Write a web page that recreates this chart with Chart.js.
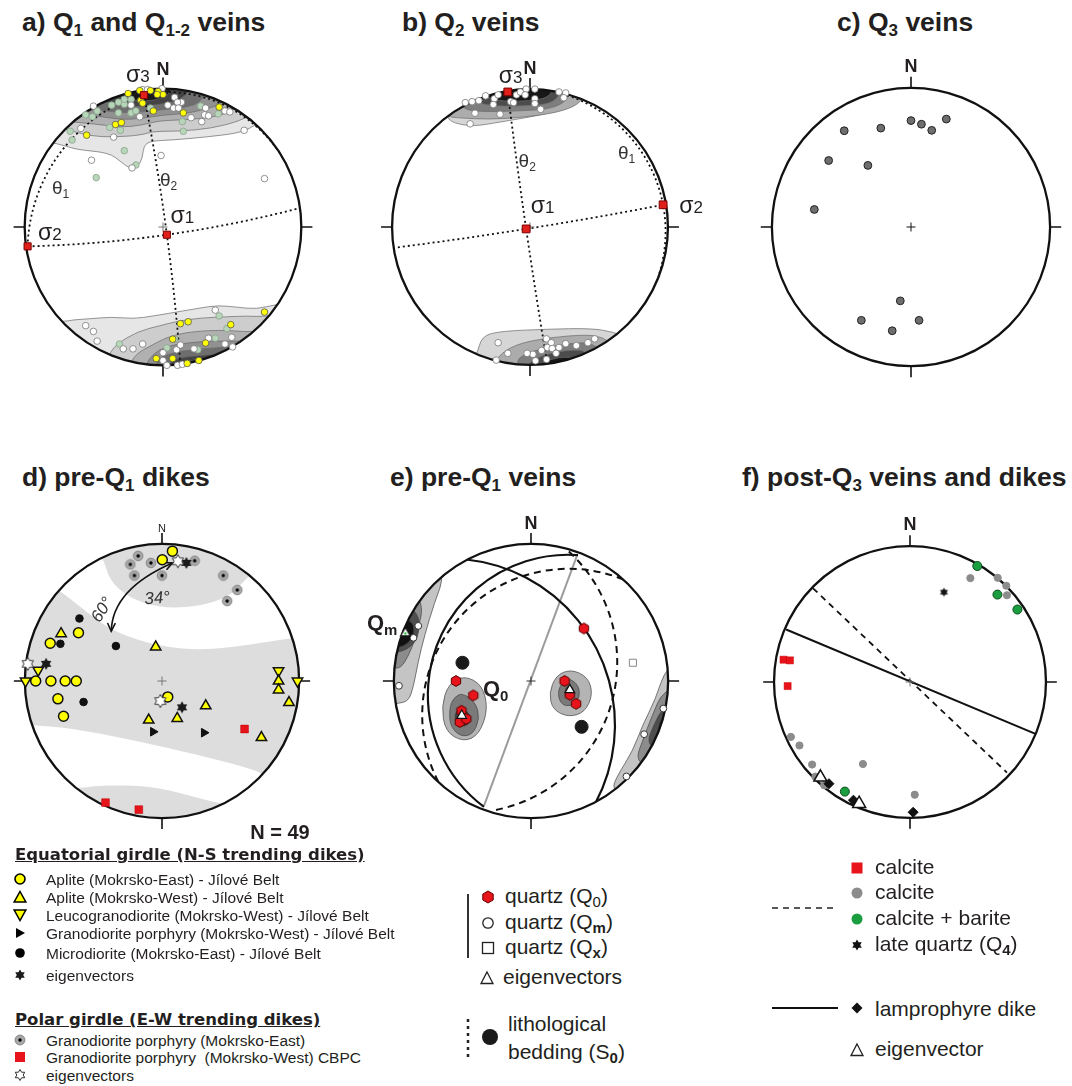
<!DOCTYPE html>
<html lang="en">
<head>
<meta charset="UTF-8">
<title>Stereonets of veins and dikes</title>
<script src="https://cdn.jsdelivr.net/npm/chart.js"></script>
<style>
  body { margin:0; width:1072px; height:1086px; position:relative; overflow:hidden; background:#fff;
         font-family:"Liberation Sans", Arial, sans-serif; color:#231f20; }
  canvas { position:absolute; }
  .ttl { position:absolute; font-weight:bold; font-size:26.5px; line-height:26px; white-space:nowrap; }
  .ttl sub { font-size:17px; vertical-align:-5px; line-height:0; }
  .lh { position:absolute; font-family:"DejaVu Sans", sans-serif; font-weight:bold; font-size:16.5px; line-height:16.5px;
        text-decoration:underline; white-space:nowrap; }
  .li { position:absolute; font-size:15.5px; line-height:15.5px; white-space:nowrap; }
  .lb { position:absolute; font-size:21px; line-height:21px; white-space:nowrap; }
  .lb sub { font-size:15px; vertical-align:-4px; line-height:0; }
  .ic { position:absolute; }
</style>
</head>
<body>
<div class="ttl" style="left:22px;top:9px">a) Q<sub>1</sub> and Q<sub>1-2</sub> veins</div>
<div class="ttl" style="left:402px;top:9px">b) Q<sub>2</sub> veins</div>
<div class="ttl" style="left:837px;top:9px">c) Q<sub>3</sub> veins</div>
<div class="ttl" style="left:22px;top:464px">d) pre-Q<sub>1</sub> dikes</div>
<div class="ttl" style="left:390px;top:464px">e) pre-Q<sub>1</sub> veins</div>
<div class="ttl" style="left:742px;top:464px">f) post-Q<sub>3</sub> veins and dikes</div>

<canvas id="netA" width="366" height="366" style="left:-20px;top:44px"></canvas>
<canvas id="netB" width="366" height="366" style="left:347px;top:44px"></canvas>
<canvas id="netC" width="366" height="366" style="left:728px;top:44px"></canvas>
<canvas id="netD" width="366" height="366" style="left:-21px;top:498px"></canvas>
<canvas id="netE" width="366" height="366" style="left:348px;top:498px"></canvas>
<canvas id="netF" width="366" height="366" style="left:727px;top:499px"></canvas>

<!-- legend d -->
<div class="lh" style="left:15px;top:847px">Equatorial girdle (N-S trending dikes)</div>
<svg class="ic" style="left:13px;top:872px" width="14" height="14"><circle cx="7" cy="7" r="5" fill="#ff0" stroke="#000" stroke-width="1.6"/></svg>
<div class="li" style="left:46px;top:872px">Aplite (Mokrsko-East) - Jílové Belt</div>
<svg class="ic" style="left:13px;top:890px" width="14" height="14"><polygon points="7,1.5 12.8,12 1.2,12" fill="#ff0" stroke="#000" stroke-width="1.5"/></svg>
<div class="li" style="left:46px;top:890px">Aplite (Mokrsko-West) - Jílové Belt</div>
<svg class="ic" style="left:13px;top:908px" width="14" height="14"><polygon points="1.2,2 12.8,2 7,12.5" fill="#ff0" stroke="#000" stroke-width="1.5"/></svg>
<div class="li" style="left:46px;top:908px">Leucogranodiorite (Mokrsko-West) - Jílové Belt</div>
<svg class="ic" style="left:13px;top:926px" width="14" height="14"><polygon points="3,2 12,7 3,12" fill="#000"/></svg>
<div class="li" style="left:46px;top:926px">Granodiorite porphyry (Mokrsko-West) - Jílové Belt</div>
<svg class="ic" style="left:13px;top:946px" width="14" height="14"><circle cx="7" cy="7" r="4.8" fill="#000"/></svg>
<div class="li" style="left:46px;top:946px">Microdiorite (Mokrsko-East) - Jílové Belt</div>
<svg class="ic" style="left:13px;top:968px" width="14" height="14"><polygon points="7,1.5 8.6,4.24 11.76,4.25 10.19,7 11.76,9.75 8.6,9.76 7,12.5 5.4,9.76 2.24,9.75 3.81,7 2.24,4.25 5.4,4.24" fill="#1a1a1a"/></svg>
<div class="li" style="left:46px;top:968px">eigenvectors</div>

<div class="lh" style="left:15px;top:1012px">Polar girdle (E-W trending dikes)</div>
<svg class="ic" style="left:13px;top:1033px" width="14" height="14"><circle cx="7" cy="7" r="5" fill="#a8a8a8" stroke="#7a7a7a" stroke-width="0.8"/><circle cx="7" cy="7" r="1.7" fill="#000"/></svg>
<div class="li" style="left:46px;top:1033px">Granodiorite porphyry (Mokrsko-East)</div>
<svg class="ic" style="left:13px;top:1050px" width="14" height="14"><rect x="2" y="2" width="10" height="10" fill="#e8141b"/></svg>
<div class="li" style="left:46px;top:1050px">Granodiorite porphyry&nbsp; (Mokrsko-West) CBPC</div>
<svg class="ic" style="left:13px;top:1068px" width="14" height="14"><polygon points="7,1.5 8.6,4.24 11.76,4.25 10.19,7 11.76,9.75 8.6,9.76 7,12.5 5.4,9.76 2.24,9.75 3.81,7 2.24,4.25 5.4,4.24" fill="#fff" stroke="#333" stroke-width="1"/></svg>
<div class="li" style="left:46px;top:1068px">eigenvectors</div>

<!-- legend e -->
<svg class="ic" style="left:466px;top:894px" width="4" height="64"><line x1="2" y1="0" x2="2" y2="64" stroke="#333" stroke-width="2"/></svg>
<svg class="ic" style="left:480px;top:889px" width="16" height="16"><polygon points="8,2 13.2,5 13.2,11 8,14 2.8,11 2.8,5" fill="#e8141b" stroke="#600" stroke-width="1"/></svg>
<div class="lb" style="left:505px;top:885px">quartz (Q<sub>0</sub>)</div>
<svg class="ic" style="left:480px;top:915px" width="16" height="16"><circle cx="8" cy="8" r="5.2" fill="#fff" stroke="#222" stroke-width="1.3"/></svg>
<div class="lb" style="left:505px;top:911px">quartz (Q<sub><b>m</b></sub>)</div>
<svg class="ic" style="left:480px;top:940px" width="16" height="16"><rect x="2.5" y="2.5" width="11" height="11" fill="#fff" stroke="#222" stroke-width="1.3"/></svg>
<div class="lb" style="left:505px;top:936px">quartz (Q<sub><b>x</b></sub>)</div>
<svg class="ic" style="left:479px;top:970px" width="16" height="16"><polygon points="8,2 14,13.5 2,13.5" fill="#fff" stroke="#222" stroke-width="1.3"/></svg>
<div class="lb" style="left:503px;top:966px">eigenvectors</div>
<svg class="ic" style="left:466px;top:1019px" width="4" height="40"><line x1="2" y1="0" x2="2" y2="40" stroke="#222" stroke-width="2.5" stroke-dasharray="3,4"/></svg>
<svg class="ic" style="left:481px;top:1028px" width="18" height="18"><circle cx="9" cy="9" r="8" fill="#1a1a1a"/></svg>
<div class="lb" style="left:508px;top:1013px">lithological</div>
<div class="lb" style="left:508px;top:1041px">bedding (S<sub><b>0</b></sub>)</div>

<!-- legend f -->
<svg class="ic" style="left:850px;top:861px" width="14" height="14"><rect x="1.5" y="1.5" width="11" height="11" fill="#e8141b"/></svg>
<div class="lb" style="left:875px;top:856px">calcite</div>
<svg class="ic" style="left:850px;top:886px" width="14" height="14"><circle cx="7" cy="7" r="5.5" fill="#8c8c8c"/></svg>
<div class="lb" style="left:875px;top:881px">calcite</div>
<svg class="ic" style="left:772px;top:906px" width="64" height="4"><line x1="0" y1="2" x2="64" y2="2" stroke="#222" stroke-width="1.6" stroke-dasharray="6,5"/></svg>
<svg class="ic" style="left:850px;top:912px" width="14" height="14"><circle cx="7" cy="7" r="5.5" fill="#1a9e3f"/></svg>
<div class="lb" style="left:875px;top:907px">calcite + barite</div>
<svg class="ic" style="left:850px;top:938px" width="14" height="14"><polygon points="7,1.5 8.6,4.24 11.76,4.25 10.19,7 11.76,9.75 8.6,9.76 7,12.5 5.4,9.76 2.24,9.75 3.81,7 2.24,4.25 5.4,4.24" fill="#111"/></svg>
<div class="lb" style="left:875px;top:933px">late quartz (Q<sub><b>4</b></sub>)</div>
<svg class="ic" style="left:772px;top:1006px" width="66" height="4"><line x1="0" y1="2" x2="66" y2="2" stroke="#111" stroke-width="2"/></svg>
<svg class="ic" style="left:850px;top:1001px" width="14" height="14"><polygon points="7,1.5 12.5,7 7,12.5 1.5,7" fill="#111"/></svg>
<div class="lb" style="left:875px;top:998px">lamprophyre dike</div>
<svg class="ic" style="left:849px;top:1042px" width="16" height="16"><polygon points="8,2 14,13.5 2,13.5" fill="#fff" stroke="#222" stroke-width="1.3"/></svg>
<div class="lb" style="left:875px;top:1038px">eigenvector</div>

<script>
// all positions are in net units: centre (0,0), primitive radius 1, north up

// ---- a) Q1 and Q1-2 veins ----
const aYellow = [[-0.252,0.965],[-0.168,0.986],[-0.091,0.986],[-0.035,0.979],[0,0.958],[-0.042,0.958],[-0.161,0.916],
  [-0.147,0.895],[-0.070,0.839],[0.147,0.825],[0.406,0.867],[-0.343,0.741],[-0.301,0.755],[-0.552,0.664],
  [0.126,-0.699],[0.182,-0.685],[0.490,-0.706],[0.734,-0.615],[0.308,-0.839],[-0.049,-0.951],[0.070,-0.951],
  [0.175,-0.986],[0.259,-0.965],[0.070,-0.811]];
const aWhite = [[-0.147,0.993],[-0.112,0.993],[-0.007,1.0],[-0.231,0.881],[0.084,0.937],[0.133,0.902],[0.105,0.902],
  [0.035,0.881],[0.077,0.860],[0.112,0.860],[0.308,0.860],[0.301,0.811],[0.329,0.804],[0.280,0.762],[0.203,0.790],
  [0.448,0.839],[0.483,0.832],[-0.503,0.874],[-0.594,0.713],[-0.357,0.650],[-0.168,0.797],[0.587,0.699],
  [-0.014,0.517],[-0.517,0.483],[-0.224,0.427],[0.734,0.350],
  [-0.559,-0.713],[-0.503,-0.755],[-0.476,-0.825],[-0.287,-0.881],[-0.217,-0.881],[-0.147,-0.846],[0.378,-0.601],
  [0.329,-0.804],[0.497,-0.797],[0.448,-0.846],[0.503,-0.867],[0.098,-0.888],[0.224,-0.881],[0.126,-0.853],
  [0,-0.909],[0,-0.965],[0.028,-1.0],[0.105,-1.0],[0.140,-0.993]];
const aGreen = [[-0.559,0.811],[-0.510,0.797],[-0.476,0.839],[-0.371,0.881],[-0.322,0.902],[-0.280,0.888],[-0.231,0.923],
  [-0.322,0.825],[-0.231,0.825],[-0.196,0.839],[-0.280,0.923],[-0.091,0.860],[0.273,0.874],[0.399,0.818],
  [0.140,0.762],[0.147,0.692],[-0.385,0.720],[-0.308,0.699],[-0.657,0.629],[-0.671,0.692],[-0.280,0.552],
  [-0.196,0.448],[-0.483,0.357],
  [0.406,-0.643],[0.462,-0.734],[0.378,-0.804],[-0.315,-0.846],[0.084,-0.811],[0.028,-0.874],[0.252,-0.888]];
const aStress = [[0.028,-0.056],[-0.979,-0.140],[-0.138,0.953]];   // sigma1, sigma2, sigma3
const aPlanes = [
  [[-0.979,-0.140],[0.028,-0.056],[1.0,0.140]],
  [[-0.138,0.953],[0.028,-0.056],[0.126,-1.0]],
  [[-0.979,-0.140],[-0.88,0.30],[-0.138,0.965]],
  [[-0.138,0.965],[0.63,0.765],[1.0,0.140]]
];
const aContours = [
  [[-0.95,0.62],[-0.769,0.608],[-0.629,0.559],[-0.392,0.538],[-0.301,0.469],[-0.238,0.420],[-0.182,0.434],[-0.147,0.503],
   [-0.140,0.587],[-0.091,0.622],[0.070,0.629],[0.308,0.650],[0.538,0.678],[0.629,0.713],[0.70,0.76],[0.85,0.85],
   [0.5,1.3],[-0.5,1.3],[-1.0,0.8]],
  [[-0.85,0.72],[-0.720,0.713],[-0.531,0.657],[-0.350,0.650],[-0.161,0.664],[-0.070,0.692],[0.119,0.692],[0.350,0.713],
   [0.538,0.762],[0.608,0.797],[0.75,0.85],[0.5,1.3],[-0.5,1.3],[-0.95,0.85]],
  [[-0.78,0.78],[-0.671,0.76],[-0.490,0.745],[-0.301,0.72],[-0.161,0.735],[-0.021,0.77],[0.189,0.775],[0.399,0.80],
   [0.520,0.85],[0.62,0.95],[0.3,1.3],[-0.4,1.3],[-0.85,0.9]],
  [[-0.72,0.78],[-0.60,0.81],[-0.45,0.80],[-0.30,0.775],[-0.15,0.785],[0.0,0.81],[0.17,0.82],[0.30,0.85],[0.42,0.885],
   [0.5,1.0],[-0.8,1.0]],
  [[-0.58,0.85],[-0.45,0.845],[-0.30,0.825],[-0.15,0.83],[0.0,0.85],[0.17,0.865],[0.27,0.90],[0.32,1.0],[-0.65,1.0]],
  [[-0.44,0.91],[-0.30,0.875],[-0.15,0.87],[0.0,0.89],[0.12,0.915],[0.2,0.99],[0.2,1.1],[-0.47,1.1]],
  [[-0.30,0.96],[-0.22,0.915],[-0.12,0.91],[-0.02,0.925],[0.06,0.97],[0.06,1.1],[-0.3,1.1]],
  [[-0.85,-0.68],[-0.720,-0.685],[-0.650,-0.671],[-0.531,-0.664],[-0.371,-0.650],[-0.210,-0.664],[-0.070,-0.643],
   [0.098,-0.615],[0.259,-0.587],[0.399,-0.566],[0.538,-0.580],[0.678,-0.594],[0.818,-0.559],[0.95,-0.55],[0.9,-1.0],
   [0,-1.3],[-0.9,-1.0]],
  [[-0.392,-0.923],[-0.336,-0.846],[-0.182,-0.755],[-0.021,-0.713],[0.119,-0.678],[0.280,-0.657],[0.448,-0.650],
   [0.608,-0.643],[0.748,-0.650],[0.853,-0.615],[0.95,-0.6],[0.8,-1.0],[0,-1.3],[-0.45,-1.1]],
  [[-0.231,-0.972],[-0.182,-0.909],[-0.091,-0.860],[0.028,-0.797],[0.168,-0.762],[0.329,-0.748],[0.490,-0.748],
   [0.657,-0.762],[0.797,-0.727],[0.9,-0.7],[0.7,-1.1],[0,-1.3],[-0.3,-1.1]],
  [[-0.126,-0.993],[-0.070,-0.916],[0.028,-0.860],[0.168,-0.839],[0.329,-0.825],[0.490,-0.825],[0.629,-0.825],
   [0.748,-0.804],[0.85,-0.8],[0.6,-1.1],[0,-1.3],[-0.15,-1.1]],
  [[-0.056,-1.0],[-0.021,-0.944],[0.070,-0.909],[0.210,-0.888],[0.378,-0.874],[0.538,-0.860],[0.6,-0.9],[0.4,-1.1],[-0.06,-1.1]],
  [[0.035,-0.986],[0.119,-0.944],[0.259,-0.930],[0.413,-0.916],[0.45,-0.95],[0.3,-1.1],[0.03,-1.1]],
  [[0.10,-1.0],[0.154,-0.972],[0.259,-0.958],[0.343,-0.951],[0.36,-1.0],[0.25,-1.1],[0.1,-1.1]]
];

// ---- b) Q2 veins ----
const bWhite = [[-0.469,0.902],[-0.420,0.909],[-0.371,0.916],[-0.322,0.951],[-0.259,0.930],[-0.231,0.958],[-0.098,0.958],
  [-0.070,0.979],[-0.028,1.0],[-0.035,0.958],[0.035,1.0],[0.035,0.930],[0.035,0.895],[-0.140,0.909],[-0.119,0.902],
  [0.210,0.979],[0.259,0.972],[0.245,0.937],[0.077,0.853],[-0.399,0.825],[-0.217,0.818],[-0.434,0.748],[-0.266,0.888],
  [-0.231,-0.839],[0.119,-0.811],[0.154,-0.839],[0.126,-0.874],[0.161,-0.881],[0.084,-0.895],[0.021,-0.923],
  [-0.021,-0.916],[0.210,-0.874],[0.259,-0.846],[0.336,-0.860],[0.420,-0.839],[0.469,-0.811],[-0.161,-0.916],
  [0.189,-0.916],[-0.245,-0.965],[0.04,-0.97],[0.12,-0.96]];
const bStress = [[-0.028,-0.014],[0.965,0.161],[-0.161,0.979]];
const bPlanes = [
  [[-0.958,-0.147],[-0.028,-0.014],[0.965,0.161]],
  [[-0.161,0.979],[-0.028,-0.014],[0.126,-0.993]],
  [[0.20,0.975],[0.965,0.161],[0.93,-0.36]]
];
const bContours = [
  [[-0.70,0.80],[-0.608,0.839],[-0.587,0.762],[-0.420,0.727],[-0.210,0.762],[0.119,0.818],[0.329,0.888],[0.385,0.944],
   [0.4,1.1],[-0.3,1.2],[-0.75,0.9]],
  [[-0.62,0.80],[-0.50,0.79],[-0.30,0.78],[-0.05,0.795],[0.20,0.83],[0.36,0.89],[0.42,1.0],[-0.65,0.95]],
  [[-0.50,0.855],[-0.35,0.835],[-0.10,0.84],[0.15,0.855],[0.28,0.92],[0.3,1.1],[-0.55,1.0]],
  [[-0.40,0.905],[-0.25,0.875],[0.0,0.88],[0.15,0.895],[0.22,0.96],[0.25,1.1],[-0.45,1.0]],
  [[-0.33,0.945],[-0.20,0.91],[0.0,0.915],[0.12,0.935],[0.17,0.99],[0.2,1.1],[-0.35,1.05]],
  [[-0.45,-0.95],[-0.385,-0.93],[-0.350,-0.790],[-0.210,-0.755],[0.119,-0.741],[0.441,-0.734],[0.608,-0.762],[0.7,-0.8],
   [0.5,-1.1],[-0.3,-1.1]],
  [[-0.245,-0.944],[-0.105,-0.850],[0.140,-0.800],[0.420,-0.780],[0.524,-0.800],[0.6,-0.85],[0.4,-1.1],[-0.25,-1.05]],
  [[-0.1,-1.0],[-0.070,-0.930],[0.140,-0.865],[0.385,-0.835],[0.455,-0.850],[0.52,-0.9],[0.3,-1.1],[-0.1,-1.1]],
  [[-0.02,-1.0],[0.035,-0.955],[0.175,-0.905],[0.350,-0.890],[0.42,-0.91],[0.3,-1.1],[0,-1.1]],
  [[0.06,-1.0],[0.105,-0.975],[0.210,-0.945],[0.294,-0.945],[0.34,-0.96],[0.25,-1.1],[0.06,-1.1]]
];

// ---- c) Q3 veins ----
const cPoles = [[0.00,0.765],[0.075,0.739],[0.149,0.695],[0.254,0.776],[-0.217,0.711],[-0.480,0.692],[-0.592,0.478],
  [-0.310,0.443],[-0.695,0.126],[-0.077,-0.531],[-0.357,-0.671],[-0.135,-0.746],[0.058,-0.671]];

// ---- d) pre-Q1 dikes ----
const dAplEast = [[0.076,0.947],[0.002,0.884],[-0.609,0.352],[-0.815,0.275],[-0.921,0],[-0.810,0],[-0.706,0],[-0.625,0],
  [-0.759,-0.130],[-0.718,-0.257],[0.042,-0.116]];
const dAplWest = [[-0.736,0.345],[-0.046,0.248],[0.850,0],[0.850,-0.065],[0.926,-0.157],[0.319,-0.181],[0.111,-0.273],
  [-0.097,-0.285],[0.725,-0.412]];
const dLeuco = [[-0.903,0.079],[-0.995,0],[0.850,0.074],[0.988,0]];
const dGranWest = [[-0.065,-0.370],[0.306,-0.377]];
const dMicro = [[-0.602,0.456],[-0.741,0.271],[-0.336,0.255],[-0.572,-0.153]];
const dEigenEq = [[0.178,0.861],[-0.845,0.125],[0.146,-0.192]];
const dEigenPolar = [[0.116,0.873],[-0.979,0.125],[-0.012,-0.146]];
const dGranEast = [[-0.174,0.912],[-0.231,0.850],[-0.081,0.861],[0.238,0.877],[-0.201,0.769],[0,0.769],[0.447,0.769],
  [0.549,0.664],[0.475,0.583]];
const dCBPC = [[0.602,-0.350],[-0.412,-0.887],[-0.169,-0.938]];
const dGirdles = [
  [[-0.5,0.95],[-0.428,0.896],[-0.382,0.734],[-0.243,0.606],[-0.012,0.532],[0.266,0.542],[0.498,0.618],[0.613,0.745],
   [0.68,0.80],[0.6,1.2],[-0.4,1.2]],
  [[-0.80,0.68],[-0.718,0.641],[-0.521,0.479],[-0.336,0.352],[-0.012,0.248],[0.313,0.225],[0.637,0.264],[0.961,0.317],
   [1.2,0.32],[1.2,-0.75],[0.78,-0.72],[0.706,-0.655],[0.266,-0.539],[-0.197,-0.435],[-0.66,-0.343],[-0.984,-0.319],
   [-1.2,-0.32],[-1.2,0.7]],
  [[-0.7,-0.78],[-0.623,-0.782],[-0.428,-0.759],[-0.081,-0.766],[0.174,-0.829],[0.44,-0.898],[0.55,-0.9],[0.5,-1.2],[-0.7,-1.2]]
];
const dAngleArrow = [[0.076,0.861],[-0.363,0.670],[-0.370,0.363]];

// ---- e) pre-Q1 veins ----
const eQ0 = [[0.386,0.383],[-0.547,0],[-0.421,-0.105],[-0.507,-0.217],[-0.519,-0.299],[-0.472,-0.276],[0.245,0],
  [0.283,-0.100],[0.329,-0.166]];
const eQm = [[-0.822,0.402],[-0.857,0.315],[-0.963,-0.035],[0.965,-0.201],[0.825,-0.388],[0.696,-0.696]];
const eQx = [[0.743,0.133]];
const eEigen = [[-0.505,-0.252],[0.283,-0.065],[-0.916,0.350]];
const eBedding = [[-0.500,0.133],[0.369,-0.334]];
const eVeinPlanes = [[[-0.472,0.886],[0.568,0.005],[0.472,-0.886]], [[0.343,0.918],[-0.752,-0.089],[-0.343,-0.918]]];
const eBeddingPlanes = [[[0.673,0.741],[-0.589,0.379],[-0.673,-0.741]], [[0.276,0.944],[0.614,-0.042],[-0.276,-0.944]]];
const eGreyPlane = [[0.334,0.911],[-0.343,-0.911]];
const eQ0Contours = [
  [[-0.484,0.040],[-0.355,-0.030],[-0.313,-0.206],[-0.379,-0.393],[-0.495,-0.444],[-0.624,-0.369],[-0.654,-0.182],[-0.600,-0.019]],
  [[-0.495,-0.089],[-0.402,-0.159],[-0.374,-0.276],[-0.426,-0.393],[-0.519,-0.404],[-0.593,-0.322],[-0.593,-0.182],[-0.554,-0.112]],
  [[-0.500,-0.194],[-0.437,-0.252],[-0.453,-0.322],[-0.519,-0.334],[-0.561,-0.276],[-0.542,-0.210]],
  [[0.290,0.086],[0.416,0.028],[0.451,-0.098],[0.393,-0.227],[0.276,-0.264],[0.159,-0.210],[0.131,-0.089],[0.182,0.040]],
  [[0.262,0.028],[0.343,-0.023],[0.360,-0.117],[0.297,-0.187],[0.215,-0.171],[0.192,-0.065]],
  [[0.280,-0.023],[0.318,-0.065],[0.304,-0.136],[0.252,-0.117],[0.248,-0.054]]
];
const eQmContours = [
  [[-0.624,0.787],[-0.706,0.565],[-0.776,0.332],[-0.822,0.145],[-0.857,-0.042],[-0.893,-0.147],[-0.974,-0.164],
   [-1.2,-0.2],[-1.2,0.5],[-0.8,0.95]],
  [[-0.787,0.542],[-0.822,0.379],[-0.869,0.238],[-0.928,0.121],[-0.974,0.086],[-1.2,0.1],[-1.2,0.6],[-0.85,0.65]],
  [[-0.822,0.484],[-0.811,0.379],[-0.846,0.273],[-0.951,0.203],[-1.2,0.2],[-1.2,0.5],[-0.9,0.55]],
  [[-0.869,0.449],[-0.846,0.355],[-0.893,0.273],[-0.974,0.238],[-1.2,0.3],[-1.1,0.5]],
  [[0.988,0.110],[0.907,-0.136],[0.813,-0.322],[0.743,-0.509],[0.626,-0.696],[0.591,-0.790],[0.7,-0.85],[1.2,-0.3],[1.2,0.2]],
  [[0.965,-0.065],[0.883,-0.252],[0.813,-0.439],[0.769,-0.556],[0.82,-0.62],[1.2,-0.3],[1.2,0.0]],
  [[0.965,-0.182],[0.895,-0.322],[0.848,-0.439],[0.9,-0.5],[1.2,-0.2]],
  [[0.977,-0.229],[0.918,-0.346],[0.97,-0.38],[1.2,-0.2]]
];

// ---- f) post-Q3 veins and dikes ----
const fCalciteRed = [[-0.930,0.164],[-0.883,0.159],[-0.900,-0.030]];
const fCalciteGrey = [[0.444,0.764],[0.645,0.766],[0.708,0.708],[0.713,0.638],[-0.876,-0.404],[-0.813,-0.467],
  [-0.720,-0.607],[-0.346,-0.603],[-0.696,-0.696],[-0.631,-0.759],[0.035,-0.829]];
const fBarite = [[0.495,0.853],[0.643,0.643],[0.790,0.533],[-0.479,-0.806]];
const fLateQuartz = [[0.250,0.661]];
const fLamprophyre = [[-0.596,-0.748],[-0.416,-0.869],[0.023,-0.958]];
const fEigen = [[-0.659,-0.701],[-0.374,-0.895]];
const fDikePlane = [[-0.911,0.386],[0.923,-0.381]];
const fVeinPlane = [[-0.713,0.689],[0.713,-0.666]];

// ---------------------------------------------------------------
const LIM = 183 / 143;
const SANS = '"Liberation Sans", Arial, sans-serif';
const greys7 = ['#e6e6e6','#cdcdcd','#b0b0b0','#919191','#6e6e6e','#444444','#1a1a1a'];
const greys5 = ['#d6d6d6','#acacac','#7e7e7e','#4c4c4c','#171717'];

function icon(size, draw) {
  const c = document.createElement('canvas');
  c.width = c.height = size;
  draw(c.getContext('2d'), size / 2);
  return c;
}
function star(g, m, r) {
  g.beginPath();
  for (let k = 0; k < 12; k++) {
    const a = -Math.PI / 2 + k * Math.PI / 6, q = k % 2 ? r * 0.58 : r;
    g.lineTo(m + q * Math.cos(a), m + q * Math.sin(a));
  }
  g.closePath();
}
const starBlack = icon(14, (g, m) => { star(g, m, 6); g.fillStyle = '#1a1a1a'; g.fill(); });
const starSmall = icon(11, (g, m) => { star(g, m, 4.6); g.fillStyle = '#111'; g.fill(); });
const starWhite = icon(16, (g, m) => { star(g, m, 6.5); g.fillStyle = '#fff'; g.fill(); g.strokeStyle = '#333'; g.lineWidth = 1; g.stroke(); });
const hexRed = icon(14, (g, m) => {
  g.beginPath();
  for (let k = 0; k < 6; k++) { const a = -Math.PI / 2 + k * Math.PI / 3; g.lineTo(m + 5.4 * Math.cos(a), m + 5.4 * Math.sin(a)); }
  g.closePath(); g.fillStyle = '#e8141b'; g.fill(); g.strokeStyle = '#5a0000'; g.lineWidth = 1; g.stroke();
});
const dotGrey = icon(12, (g, m) => {
  g.beginPath(); g.arc(m, m, 4.8, 0, 2 * Math.PI); g.fillStyle = '#a8a8a8'; g.fill();
  g.strokeStyle = '#7a7a7a'; g.lineWidth = 0.8; g.stroke();
  g.beginPath(); g.arc(m, m, 1.7, 0, 2 * Math.PI); g.fillStyle = '#000'; g.fill();
});
const triQm = icon(14, (g, m) => {
  g.beginPath(); g.moveTo(m, m - 5.5); g.lineTo(m + 4.8, m + 2.8); g.lineTo(m - 4.8, m + 2.8); g.closePath();
  g.fillStyle = '#fff'; g.fill(); g.strokeStyle = '#111'; g.lineWidth = 1.2; g.stroke();
  g.beginPath(); g.arc(m, m + 0.5, 1.3, 0, 2 * Math.PI); g.fillStyle = '#2fbf3a'; g.fill();
});

function ds(points, opts) {
  return Object.assign({ data: points.map(p => ({ x: p[0], y: p[1] })), pointRadius: 3.3, borderWidth: 1 }, opts);
}

function smoothShape(ctx, pts) {
  const n = pts.length;
  const mid = i => [(pts[i][0] + pts[(i + 1) % n][0]) / 2, (pts[i][1] + pts[(i + 1) % n][1]) / 2];
  const s = mid(n - 1);
  ctx.moveTo(s[0], s[1]);
  for (let i = 0; i < n; i++) { const m = mid(i); ctx.quadraticCurveTo(pts[i][0], pts[i][1], m[0], m[1]); }
  ctx.closePath();
}

function planePath(ctx, pts) {
  if (pts.length === 2) { ctx.moveTo(pts[0][0], pts[0][1]); ctx.lineTo(pts[1][0], pts[1][1]); return; }
  const [ax, ay] = pts[0], [bx, by] = pts[1], [cx, cy] = pts[2];
  const d = 2 * (ax * (by - cy) + bx * (cy - ay) + cx * (ay - by));
  if (Math.abs(d) < 1e-3) { ctx.moveTo(ax, ay); ctx.lineTo(cx, cy); return; }
  const ux = ((ax * ax + ay * ay) * (by - cy) + (bx * bx + by * by) * (cy - ay) + (cx * cx + cy * cy) * (ay - by)) / d;
  const uy = ((ax * ax + ay * ay) * (cx - bx) + (bx * bx + by * by) * (ax - cx) + (cx * cx + cy * cy) * (bx - ax)) / d;
  const r = Math.hypot(ax - ux, ay - uy);
  const norm = a => ((a % (2 * Math.PI)) + 2 * Math.PI) % (2 * Math.PI);
  const a1 = Math.atan2(ay - uy, ax - ux), a2 = Math.atan2(by - uy, bx - ux), a3 = Math.atan2(cy - uy, cx - ux);
  ctx.moveTo(ax, ay);
  ctx.arc(ux, uy, r, a1, a3, norm(a2 - a1) > norm(a3 - a1));
}

function netPlugin(cfg) {
  return {
    id: 'net',
    beforeDatasetsDraw(chart) {
      const ctx = chart.ctx, sx = chart.scales.x, sy = chart.scales.y;
      const P = p => [sx.getPixelForValue(p[0]), sy.getPixelForValue(p[1])];
      const [c0, c1] = P([0, 0]);
      const r = sx.getPixelForValue(1) - c0;
      ctx.save();
      ctx.beginPath(); ctx.arc(c0, c1, r, 0, 2 * Math.PI); ctx.clip();
      (cfg.fills || []).forEach(f => {
        ctx.beginPath(); smoothShape(ctx, f.pts.map(P));
        ctx.fillStyle = f.color; ctx.fill();
        if (f.edge) { ctx.strokeStyle = f.edge; ctx.lineWidth = 0.7; ctx.stroke(); }
      });
      (cfg.planes || []).forEach(pl => {
        ctx.beginPath(); planePath(ctx, pl.pts.map(P));
        ctx.setLineDash(pl.dash || []); ctx.lineWidth = pl.width || 1.8; ctx.strokeStyle = pl.color || '#111';
        ctx.stroke();
      });
      ctx.restore();
      ctx.save();
      ctx.setLineDash([]);
      ctx.beginPath(); ctx.arc(c0, c1, r, 0, 2 * Math.PI);
      ctx.lineWidth = 2.3; ctx.strokeStyle = '#111'; ctx.stroke();
      const t = r * 0.08;
      ctx.beginPath();
      ctx.moveTo(c0, c1 - r); ctx.lineTo(c0, c1 - r - t);
      ctx.moveTo(c0, c1 + r); ctx.lineTo(c0, c1 + r + t);
      ctx.moveTo(c0 - r, c1); ctx.lineTo(c0 - r - t, c1);
      ctx.moveTo(c0 + r, c1); ctx.lineTo(c0 + r + t, c1);
      ctx.lineWidth = 1.6; ctx.stroke();
      ctx.beginPath();
      ctx.moveTo(c0 - 4.5, c1); ctx.lineTo(c0 + 4.5, c1); ctx.moveTo(c0, c1 - 4.5); ctx.lineTo(c0, c1 + 4.5);
      ctx.lineWidth = 1; ctx.strokeStyle = cfg.crossColor || '#777'; ctx.stroke();
      if (cfg.arrow) {
        const [p0, pc, p1] = cfg.arrow.map(P);
        ctx.beginPath(); ctx.moveTo(p0[0], p0[1]); ctx.quadraticCurveTo(pc[0], pc[1], p1[0], p1[1]);
        ctx.strokeStyle = '#111'; ctx.lineWidth = 1.6; ctx.stroke();
        [[p0, pc], [p1, pc]].forEach(([tip, from]) => {
          const a = Math.atan2(tip[1] - from[1], tip[0] - from[0]);
          ctx.beginPath();
          ctx.moveTo(tip[0] - 9 * Math.cos(a - 0.45), tip[1] - 9 * Math.sin(a - 0.45));
          ctx.lineTo(tip[0], tip[1]);
          ctx.lineTo(tip[0] - 9 * Math.cos(a + 0.45), tip[1] - 9 * Math.sin(a + 0.45));
          ctx.stroke();
        });
      }
      ctx.restore();
    },
    afterDatasetsDraw(chart) {
      const ctx = chart.ctx, sx = chart.scales.x, sy = chart.scales.y;
      ctx.save();
      (cfg.labels || []).forEach(l => {
        const x = sx.getPixelForValue(l.at[0]), y = sy.getPixelForValue(l.at[1]);
        ctx.fillStyle = l.color || '#231f20';
        ctx.save(); ctx.translate(x, y);
        if (l.rot) ctx.rotate(l.rot * Math.PI / 180);
        ctx.textBaseline = l.rot !== undefined ? 'middle' : 'alphabetic';
        let w = 0;
        l.parts.forEach(p => { ctx.font = p[1]; w += ctx.measureText(p[0]).width; });
        let cx = l.align === 'left' ? 0 : -w / 2;
        l.parts.forEach(p => { ctx.font = p[1]; ctx.fillText(p[0], cx, p[2] || 0); cx += ctx.measureText(p[0]).width; });
        ctx.restore();
      });
      ctx.restore();
    }
  };
}

function net(id, datasets, cfg) {
  return new Chart(document.getElementById(id), {
    type: 'scatter',
    data: { datasets },
    options: {
      responsive: false, animation: false, events: [],
      layout: { padding: 0 },
      plugins: { legend: { display: false }, tooltip: { enabled: false } },
      scales: {
        x: { type: 'linear', min: -LIM, max: LIM, display: false },
        y: { type: 'linear', min: -LIM, max: LIM, display: false }
      }
    },
    plugins: [netPlugin(cfg)]
  });
}

const nLabel = v => ({ at: [0, v], parts: [['N', 'bold 18px ' + SANS]] });
const sig = (n, at) => ({ at, parts: [['σ', '23px ' + SANS], [n, '17px ' + SANS]] });
const theta = (n, at) => ({ at, color: '#333', parts: [['θ', '19px ' + SANS], [n, '12px ' + SANS, 4]] });
const contourFills = (list, palette, split, edge) =>
  list.map((pts, i) => ({ pts, color: palette[i % split], edge }));

// a
net('netA', [
  ds(aStress, { pointStyle: 'rect', pointRadius: 5, backgroundColor: '#e0201b', borderColor: '#7a0000' }),
  ds(aYellow, { backgroundColor: '#ffff00', borderColor: '#555', borderWidth: 0.8 }),
  ds(aWhite, { backgroundColor: '#ffffff', borderColor: '#777', borderWidth: 0.8 }),
  ds(aGreen, { backgroundColor: '#b7d6b9', borderColor: '#8aa38c', borderWidth: 0.8 })
], {
  fills: contourFills(aContours, greys7, 7, '#6a6a6a'),
  planes: aPlanes.map(pts => ({ pts, dash: [2, 3] })),
  labels: [nLabel(1.101), sig('3', [-0.182, 1.047]), sig('1', [0.140, 0.028]), sig('2', [-0.818, -0.091]),
           theta('1', [-0.74, 0.238]), theta('2', [0.04, 0.294])]
});

// b
net('netB', [
  ds(bStress, { pointStyle: 'rect', pointRadius: 5.5, backgroundColor: '#e0201b', borderColor: '#7a0000' }),
  ds(bWhite, { backgroundColor: '#ffffff', borderColor: '#777', borderWidth: 0.8 })
], {
  fills: contourFills(bContours, greys5, 5, '#6a6a6a'),
  planes: bPlanes.map(pts => ({ pts, dash: [2, 3] })),
  labels: [nLabel(1.112), sig('3', [-0.140, 1.042]), sig('1', [0.091, 0.098]), sig('2', [1.168, 0.105]),
           theta('1', [0.70, 0.490]), theta('2', [-0.02, 0.434])]
});

// c
net('netC', [
  ds(cPoles, { pointRadius: 3.9, backgroundColor: '#6e6e6e', borderColor: '#222', borderWidth: 1 })
], { crossColor: '#111', labels: [nLabel(1.112)] });

// d
net('netD', [
  ds(dEigenPolar, { pointStyle: starWhite }),
  ds(dEigenEq, { pointStyle: starBlack }),
  ds(dAplEast, { pointRadius: 5, backgroundColor: '#ffff00', borderColor: '#111', borderWidth: 1.5 }),
  ds(dAplWest, { pointStyle: 'triangle', pointRadius: 6, backgroundColor: '#ffff00', borderColor: '#111', borderWidth: 1.5 }),
  ds(dLeuco, { pointStyle: 'triangle', rotation: 180, pointRadius: 6, backgroundColor: '#ffff00', borderColor: '#111', borderWidth: 1.5 }),
  ds(dGranWest, { pointStyle: 'triangle', rotation: 90, pointRadius: 5, backgroundColor: '#111', borderColor: '#111' }),
  ds(dMicro, { pointRadius: 3.8, backgroundColor: '#111', borderColor: '#111' }),
  ds(dGranEast, { pointStyle: dotGrey }),
  ds(dCBPC, { pointStyle: 'rect', pointRadius: 5.5, backgroundColor: '#e8141b', borderColor: '#b00', borderWidth: 0.5 })
], {
  fills: dGirdles.map(pts => ({ pts, color: '#dddddd' })),
  arrow: dAngleArrow,
  labels: [
    { at: [0, 1.084], parts: [['N', '11px ' + SANS]] },
    { at: [-0.434, 0.517], rot: -57, color: '#333', parts: [['60°', 'italic 17px ' + SANS]] },
    { at: [-0.035, 0.601], rot: -4, color: '#333', parts: [['34°', 'italic 17px ' + SANS]] },
    { at: [0.86, -1.15], parts: [['N = 49', 'bold 20px ' + SANS]] }
  ]
});

// e
net('netE', [
  ds(eEigen.slice(0, 2), { pointStyle: 'triangle', pointRadius: 5.5, backgroundColor: '#ffffff', borderColor: '#111', borderWidth: 1.2 }),
  ds(eEigen.slice(2), { pointStyle: triQm }),
  ds(eQ0, { pointStyle: hexRed }),
  ds(eQm, { pointRadius: 3.4, backgroundColor: '#ffffff', borderColor: '#333', borderWidth: 1 }),
  ds(eQx, { pointStyle: 'rect', pointRadius: 5, backgroundColor: '#ffffff', borderColor: '#888', borderWidth: 1 }),
  ds(eBedding, { pointRadius: 6.5, backgroundColor: '#1a1a1a', borderColor: '#1a1a1a' })
], {
  crossColor: '#333',
  fills: contourFills(eQmContours, ['#c4c4c4', '#8c8c8c', '#4e4e4e', '#111111'], 4, '#444')
    .concat(contourFills(eQ0Contours, ['#b4b4b4', '#7a7a7a', '#3c3c3c'], 3, '#444')),
  planes: [{ pts: eGreyPlane, color: '#9c9c9c', width: 2 }]
    .concat(eBeddingPlanes.map(pts => ({ pts, dash: [7, 5], width: 2 })))
    .concat(eVeinPlanes.map(pts => ({ pts, width: 2.2 }))),
  labels: [
    nLabel(1.112),
    { at: [-1.196, 0.371], align: 'left', parts: [['Q', 'bold 22px ' + SANS], ['m', 'bold 15px ' + SANS, 5]] },
    { at: [-0.35, -0.112], align: 'left', parts: [['Q', 'bold 22px ' + SANS], ['0', 'bold 15px ' + SANS, 5]] }
  ]
});

// f
net('netF', [
  ds(fEigen, { pointStyle: 'triangle', pointRadius: 7.5, backgroundColor: '#ffffff', borderColor: '#111', borderWidth: 1.5 }),
  ds(fLamprophyre, { pointStyle: 'rectRot', pointRadius: 5, backgroundColor: '#111', borderColor: '#111' }),
  ds(fLateQuartz, { pointStyle: starSmall }),
  ds(fBarite, { pointRadius: 4.5, backgroundColor: '#1a9e3f', borderColor: '#0b4d1d', borderWidth: 1 }),
  ds(fCalciteGrey, { pointRadius: 3.6, backgroundColor: '#8c8c8c', borderColor: '#8c8c8c' }),
  ds(fCalciteRed, { pointStyle: 'rect', pointRadius: 5, backgroundColor: '#e8141b', borderColor: '#c00', borderWidth: 0.5 })
], {
  planes: [{ pts: fVeinPlane, dash: [6, 5], width: 1.8 }, { pts: fDikePlane, width: 2 }],
  labels: [nLabel(1.119)]
});
</script>
</body>
</html>
